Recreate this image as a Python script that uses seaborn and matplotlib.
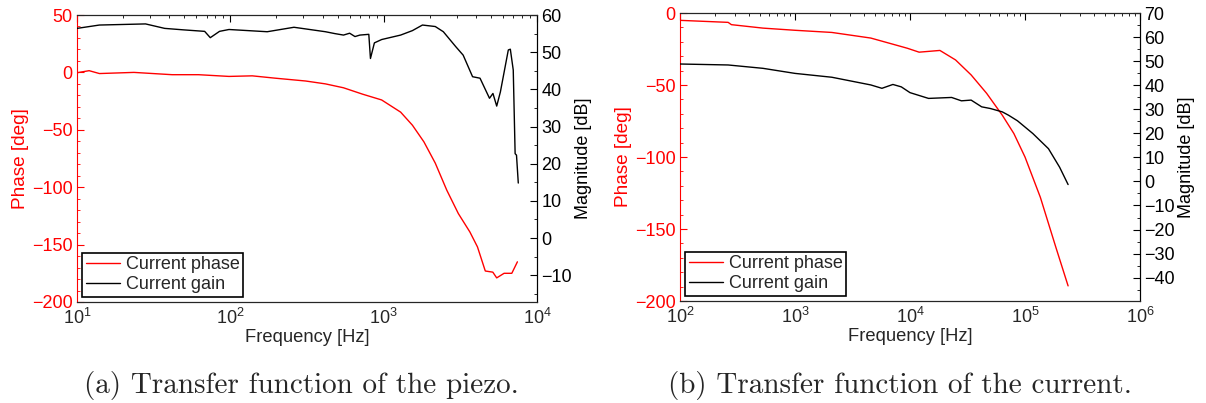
import numpy as np
import pandas as pd
import matplotlib
matplotlib.use("Agg")
import matplotlib.pyplot as plt
import seaborn as sns
from matplotlib.ticker import MultipleLocator, LogLocator, NullFormatter

# --- piezo transfer function ---
piezo_phase_f = [10, 12, 14, 23.5, 41.7, 62, 98, 139, 195, 310, 417, 547, 730, 970,
                 1290, 1540, 1830, 2170, 2580, 3070, 3650, 4090, 4600, 5150, 5460,
                 6100, 6850, 7450]
piezo_phase = [-0.3, 1.5, -1.0, 0, -2, -2, -3.5, -3, -5, -7.5, -10, -13.4, -19, -24,
               -34.6, -46, -60.5, -79, -102.6, -123, -139, -152, -173, -174, -179,
               -175, -175, -165]
piezo_gain_f = [10, 14, 28, 37.3, 49.6, 68, 74, 85, 98, 174, 260, 417, 480, 547, 600,
                650, 700, 800, 820, 870, 970, 1290, 1540, 1790, 2170, 2450, 2950, 3300,
                3800, 4250, 4900, 5160, 5460, 5770, 6500, 6700, 7000, 7200, 7350, 7550]
piezo_gain = [56.4, 57.3, 57.6, 56.4, 56.0, 55.6, 53.9, 55.6, 56.1, 55.5, 56.7, 55.5,
              55.0, 54.6, 55.1, 54.2, 54.6, 54.8, 48.3, 52.5, 53.4, 54.6, 55.8, 57.3,
              56.9, 55.5, 51.5, 49.2, 43.4, 43.0, 37.6, 38.9, 35.5, 39.3, 50.6, 50.8,
              45.2, 22.7, 22.3, 14.8]

# --- current transfer function ---
cur_phase_f = [100, 262, 280, 527, 1000, 2090, 4560, 8400, 9500, 12000, 18200, 24900,
               34000, 46400, 63500, 80000, 100000, 136000, 186000, 237000]
cur_phase = [-5.1, -6.5, -8.1, -10.5, -12, -13.5, -17.4, -23.3, -24.5, -27.2, -26,
             -32.6, -43, -55.8, -71, -83.7, -100, -128, -163, -189.5]
cur_gain_f = [100, 262, 527, 1000, 2090, 4560, 5700, 7100, 8400, 10000, 14500, 23000,
              28000, 34000, 42000, 50000, 63500, 72000, 86000, 117000, 160000, 200000,
              237000]
cur_gain = [48.8, 48.4, 47, 44.9, 43.3, 40.1, 38.7, 40.3, 39.3, 36.9, 34.5, 34.9,
            33.5, 33.8, 31, 30.3, 28.9, 27.5, 25.2, 19.9, 13.6, 5.9, -1.3]

panels = [
    dict(pf=piezo_phase_f, p=piezo_phase, gf=piezo_gain_f, g=piezo_gain,
         xlim=(1e1, 1e4), plim=(-200, 50), glim=(-17.2, 60),
         caption="(a) Transfer function of the piezo."),
    dict(pf=cur_phase_f, p=cur_phase, gf=cur_gain_f, g=cur_gain,
         xlim=(1e2, 1e6), plim=(-200, 0), glim=(-49.7, 70),
         caption="(b) Transfer function of the current."),
]

sns.set_style("white")
plt.rcParams["font.family"] = ["Liberation Sans", "DejaVu Sans"]
plt.rcParams["mathtext.fontset"] = "custom"
plt.rcParams["mathtext.rm"] = "Liberation Sans"
plt.rcParams["mathtext.it"] = "Liberation Sans"
plt.rcParams["axes.linewidth"] = 0.8

W, H = 1206, 403
fig = plt.figure(figsize=(W / 100, H / 100), dpi=100)
# axes boxes in pixels: left, top, right, bottom
boxes_px = [(77, 15, 537, 302), (680, 13, 1140, 301)]
caption_x = [301, 900]

for (l, t, r, b), cx, pn in zip(boxes_px, caption_x, panels):
    ax = fig.add_axes((l / W, 1 - b / H, (r - l) / W, (b - t) / H))
    ax2 = ax.twinx()
    ph = pd.DataFrame({"f": pn["pf"], "v": pn["p"]})
    gn = pd.DataFrame({"f": pn["gf"], "v": pn["g"]})
    sns.lineplot(data=ph, x="f", y="v", ax=ax, color="red", lw=1.0,
                 label="Current phase", legend=False)
    sns.lineplot(data=gn, x="f", y="v", ax=ax2, color="black", lw=1.0,
                 label="Current gain", legend=False)
    ax.set_xscale("log")
    ax.set_xlim(*pn["xlim"])
    ax.set_ylim(*pn["plim"])
    ax2.set_ylim(*pn["glim"])

    ax.yaxis.set_major_locator(MultipleLocator(50))
    ax.yaxis.set_minor_locator(MultipleLocator(10))
    ax2.yaxis.set_major_locator(MultipleLocator(10))
    ax2.yaxis.set_minor_locator(MultipleLocator(5))
    ax.xaxis.set_major_locator(LogLocator(base=10, numticks=10))
    ax.xaxis.set_minor_locator(LogLocator(base=10, subs=np.arange(2, 10), numticks=50))
    ax.xaxis.set_minor_formatter(NullFormatter())

    ax.tick_params(axis="x", which="both", direction="in", top=True, labelsize=13,
                   color="black", pad=4)
    ax.tick_params(axis="x", which="major", length=5)
    ax.tick_params(axis="x", which="minor", length=2.5)
    ax.tick_params(axis="y", which="both", direction="in", colors="red", labelsize=13,
                   left=True, right=False, pad=3)
    ax.tick_params(axis="y", which="major", length=5)
    ax.tick_params(axis="y", which="minor", length=2.5)
    ax2.tick_params(axis="y", which="both", direction="in", colors="black",
                    labelsize=13, right=True, pad=3)
    ax2.tick_params(axis="y", which="major", length=5)
    ax2.tick_params(axis="y", which="minor", length=2.5)

    ax.spines["left"].set_color("red")
    ax2.spines["left"].set_visible(False)
    for s in ["top", "right", "bottom"]:
        ax.spines[s].set_color("black")
    ax2.spines["right"].set_color("black")

    ax.set_xlabel("Frequency [Hz]", fontsize=13.2, labelpad=1)
    ax.set_ylabel("Phase [deg]", fontsize=13.7, color="red", labelpad=2)
    ax2.set_ylabel("Magnitude [dB]", fontsize=13, color="black", labelpad=2)

    h1, l1 = ax.get_legend_handles_labels()
    h2, l2 = ax2.get_legend_handles_labels()
    leg = ax2.legend(h1 + h2, l1 + l2, loc="lower left", fontsize=13, fancybox=False,
                     edgecolor="black", framealpha=1, borderaxespad=0.3,
                     handlelength=1.9, handletextpad=0.3, borderpad=0.2,
                     labelspacing=0.15)
    leg.get_frame().set_linewidth(1.2)

    fig.text(cx / W, 1 - 385 / H, pn["caption"], ha="center", va="center",
             fontsize=21, family=["cmr10", "DejaVu Serif"])

fig.savefig("out.png", dpi=100)
